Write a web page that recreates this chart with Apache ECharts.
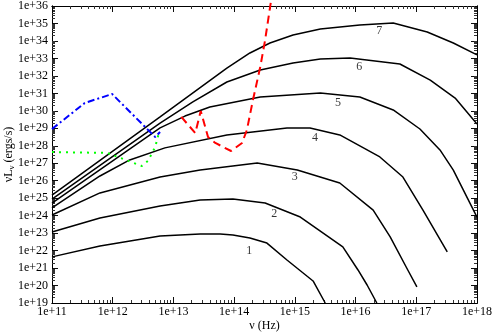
<!DOCTYPE html>
<html>
<head>
<meta charset="utf-8">
<script src="https://cdn.jsdelivr.net/npm/echarts@6/dist/echarts.min.js"></script>
<style>
    html, body { margin: 0; padding: 0; background: #fff; }
    #chart { width: 493px; height: 332px; }
</style>
</head>
<body>
<div id="chart"></div>
<script>
// all values are log10 (nu in Hz, nuL_nu in ergs/s)
const nu1 = [11.00, 11.79, 12.78, 13.44, 13.77, 13.98, 14.26, 14.54, 14.87, 15.30, 15.50];
const lum1 = [21.64, 22.26, 22.84, 22.95, 22.95, 22.89, 22.72, 22.43, 21.46, 20.26, 19.00];
const nu2 = [11.00, 11.79, 12.78, 13.44, 13.98, 14.51, 15.09, 15.79, 16.04, 16.19, 16.35];
const lum2 = [23.06, 23.87, 24.55, 24.90, 24.95, 24.72, 23.92, 22.21, 20.89, 20.03, 19.00];
const nu3 = [11.00, 11.79, 12.78, 13.44, 14.38, 15.04, 15.74, 16.29, 16.57, 16.86, 17.01];
const lum3 = [24.04, 25.30, 26.21, 26.61, 27.01, 26.61, 25.87, 24.32, 22.78, 20.89, 19.92];
const nu4 = [11.00, 11.79, 12.28, 12.86, 13.88, 14.87, 15.25, 15.74, 16.40, 16.78, 17.11, 17.51];
const lum4 = [24.44, 26.27, 27.19, 27.88, 28.62, 29.02, 29.02, 28.62, 27.36, 26.21, 24.32, 21.92];
const nu5 = [11.00, 12.78, 13.19, 13.60, 14.43, 15.42, 16.07, 16.62, 17.06, 17.39, 17.61, 18.00];
const lum5 = [24.72, 29.02, 29.70, 30.22, 30.79, 31.02, 30.79, 30.05, 28.96, 27.76, 26.61, 23.92];
const nu6 = [11.00, 12.78, 13.32, 13.88, 14.43, 14.97, 15.42, 15.91, 16.73, 17.23, 17.64, 18.00];
const lum6 = [24.95, 29.30, 30.51, 31.65, 32.34, 32.74, 32.97, 33.02, 32.68, 31.76, 30.73, 29.25];
const nu7 = [11.00, 12.78, 13.88, 14.26, 14.59, 14.97, 15.42, 16.07, 16.62, 17.18, 17.61, 18.00];
const lum7 = [25.18, 29.65, 32.45, 33.31, 33.88, 34.34, 34.68, 34.91, 35.03, 34.51, 33.88, 33.20];

const nuRed = [13.13, 13.36, 13.45, 13.57, 13.69, 13.95, 14.13, 14.21, 14.31, 14.43, 14.51, 14.61];
const lumRed = [29.65, 28.73, 29.99, 28.50, 28.16, 27.70, 28.16, 28.90, 30.62, 32.51, 34.05, 36.35];
const nuBlue = [11.00, 11.54, 11.99, 12.70, 12.78];
const lumBlue = [28.96, 30.45, 30.96, 28.50, 28.79];
const nuGreen = [11.00, 11.91, 12.48, 12.58, 12.70, 12.76];
const lumGreen = [27.64, 27.59, 26.84, 27.13, 27.93, 28.73];

const labelText = ['1', '2', '3', '4', '5', '6', '7'];
const labelNu = [14.25, 14.66, 15.00, 15.33, 15.71, 16.06, 16.39];
const labelLum = [21.98, 24.09, 26.21, 28.44, 30.45, 32.51, 34.57];

const xMin = 11, xMax = 18;
const yMin = 19, yMax = 36;

const zip = (xs, ys) => xs.map((x, i) => [x, ys[i]]);

// minor ticks at 2..9 inside each decade
const minorTicks = (lo, hi) => {
    const out = [];
    for (let d = lo; d < hi; d++) {
        for (let k = 2; k <= 9; k++) out.push(d + Math.log10(k));
    }
    return out;
};

const serif = 'Liberation Serif';
const black = '#000';
// pure black ticks did not show up, so try near-black variants
const majorTickColor = 'rgba(0,0,0,0.95)';
const minorTickColor = '#333';

const majorAxis = (pos, min, max, showLabel, isX) => ({
    type: 'value',
    position: pos,
    min: min,
    max: max,
    interval: 1,
    axisLine: { show: true, lineStyle: { color: black, width: 1 } },
    axisTick: { show: true, inside: true, length: 6, lineStyle: { color: majorTickColor } },
    axisLabel: {
        show: showLabel,
        margin: isX ? 3 : 4,
        color: black,
        fontFamily: serif,
        fontSize: 12,
        formatter: v => '1e+' + v
    },
    splitLine: { show: false }
});

const minorAxis = (pos, min, max) => ({
    type: 'value',
    position: pos,
    min: min,
    max: max,
    interval: 1,
    axisLine: { show: true, lineStyle: { color: black, width: 1 } },
    axisTick: { show: true, inside: true, length: 3, customValues: minorTicks(min, max), lineStyle: { color: minorTickColor } },
    axisLabel: { show: false },
    splitLine: { show: false }
});

const xBottom = majorAxis('bottom', xMin, xMax, true, true);
xBottom.name = 'ν (Hz)';
xBottom.nameLocation = 'middle';
xBottom.nameGap = 17;
xBottom.nameMoveOverlap = false;
xBottom.nameTextStyle = { color: black, fontFamily: serif, fontSize: 12 };

const yLeft = majorAxis('left', yMin, yMax, true, false);
yLeft.name = 'νL{s|ν} (ergs/s)';
yLeft.nameLocation = 'middle';
yLeft.nameGap = 36;
yLeft.nameMoveOverlap = false;
yLeft.nameTextStyle = {
    color: black, fontFamily: serif, fontSize: 12,
    rich: { s: { fontFamily: serif, fontSize: 9, color: black, padding: [6, 0, 0, 0] } }
};

const curve = (xs, ys) => ({
    type: 'line',
    data: zip(xs, ys),
    showSymbol: false,
    lineStyle: { color: black, width: 1.5 }
});

const chart = echarts.init(document.getElementById('chart'));
chart.setOption({
    animation: false,
    backgroundColor: '#fff',
    grid: { left: 52, right: 16, top: 6, bottom: 29, outerBoundsMode: 'none' },
    xAxis: [xBottom, minorAxis('bottom', xMin, xMax), majorAxis('top', xMin, xMax, false, true), minorAxis('top', xMin, xMax)],
    yAxis: [yLeft, minorAxis('left', yMin, yMax), majorAxis('right', yMin, yMax, false, false), minorAxis('right', yMin, yMax)],
    series: [
        curve(nu1, lum1),
        curve(nu2, lum2),
        curve(nu3, lum3),
        curve(nu4, lum4),
        curve(nu5, lum5),
        curve(nu6, lum6),
        curve(nu7, lum7),
        {
            type: 'line',
            data: zip(nuRed, lumRed),
            showSymbol: false,
            clip: false,
            lineStyle: { color: '#ff0000', width: 2, type: [8, 5] }
        },
        {
            type: 'line',
            data: zip(nuBlue, lumBlue),
            showSymbol: false,
            lineStyle: { color: '#0000ff', width: 2, type: [7, 3, 2, 3] }
        },
        {
            type: 'line',
            data: zip(nuGreen, lumGreen),
            showSymbol: false,
            lineStyle: { color: '#00ff00', width: 2, type: [2, 5] }
        },
        {
            type: 'scatter',
            data: zip(labelNu, labelLum),
            symbolSize: 0,
            label: {
                show: true,
                position: 'inside',
                color: black,
                fontFamily: serif,
                fontSize: 12,
                formatter: p => labelText[p.dataIndex]
            }
        }
    ]
});
</script>
</body>
</html>
